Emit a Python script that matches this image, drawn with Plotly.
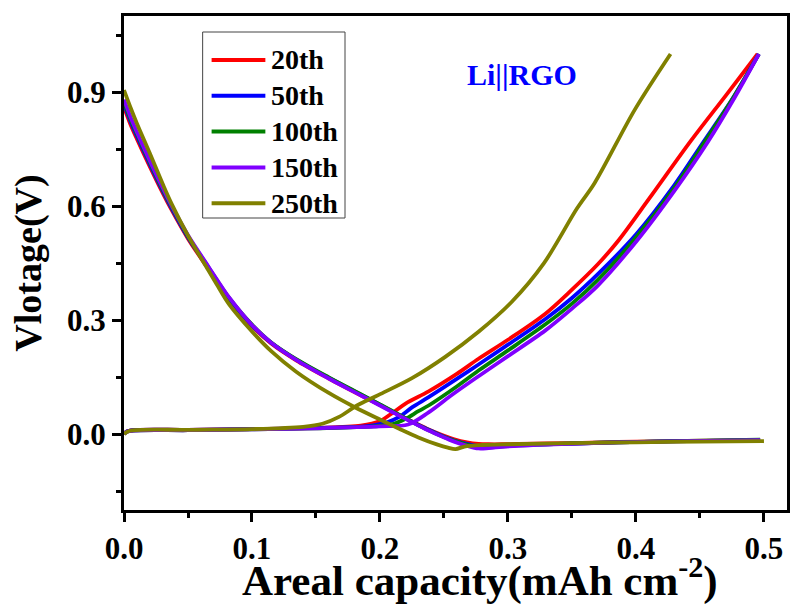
import plotly.graph_objects as go

# ---------------- data ----------------
series_names = ["20th", "50th", "100th", "150th", "250th"]
series_colors = ["#FF0000", "#0000FF", "#008000", "#8000FF", "#808000"]

# discharge branch (20th-150th share one capacity grid)
dis_x = [0, 0.005, 0.01, 0.02, 0.0306, 0.0373, 0.05, 0.0643, 0.0735, 0.082, 0.1,
         0.115, 0.1345, 0.16, 0.186, 0.2, 0.217, 0.228, 0.238, 0.248, 0.258, 0.268,
         0.277, 0.285, 0.295, 0.308, 0.33, 0.35, 0.386, 0.44, 0.497]
dis_20 = [0.86, 0.815, 0.777, 0.705, 0.632, 0.589, 0.514, 0.442, 0.396, 0.355, 0.284,
          0.238, 0.194, 0.146, 0.1, 0.076, 0.046, 0.028, 0.012, -0.002, -0.014, -0.022,
          -0.026, -0.027, -0.027, -0.026, -0.025, -0.024, -0.021, -0.018, -0.016]
dis_50 = [0.868, 0.823, 0.784, 0.711, 0.637, 0.593, 0.517, 0.445, 0.398, 0.357, 0.286,
          0.24, 0.196, 0.148, 0.102, 0.077, 0.046, 0.027, 0.011, -0.004, -0.017, -0.026,
          -0.032, -0.032, -0.031, -0.029, -0.027, -0.025, -0.022, -0.019, -0.016]
dis_100 = [0.874, 0.829, 0.79, 0.716, 0.641, 0.597, 0.52, 0.447, 0.4, 0.359, 0.288,
           0.241, 0.197, 0.149, 0.103, 0.078, 0.047, 0.027, 0.01, -0.005, -0.018, -0.028,
           -0.035, -0.035, -0.033, -0.03, -0.027, -0.025, -0.022, -0.018, -0.015]
dis_150 = [0.88, 0.835, 0.795, 0.72, 0.645, 0.6, 0.523, 0.449, 0.402, 0.36, 0.287,
           0.24, 0.195, 0.146, 0.1, 0.075, 0.045, 0.026, 0.009, -0.006, -0.02, -0.031,
           -0.038, -0.037, -0.034, -0.031, -0.028, -0.026, -0.022, -0.019, -0.016]
dis_250_x = [0, 0.005, 0.01, 0.02, 0.0306, 0.0373, 0.05, 0.0643, 0.0735, 0.082, 0.1,
             0.115, 0.1345, 0.16, 0.18, 0.2, 0.215, 0.23, 0.245, 0.253, 0.259, 0.266,
             0.28, 0.3, 0.35, 0.4, 0.45, 0.5]
dis_250 = [0.905, 0.86, 0.818, 0.74, 0.655, 0.605, 0.522, 0.44, 0.388, 0.342, 0.27,
           0.218, 0.164, 0.108, 0.071, 0.038, 0.014, -0.009, -0.028, -0.036, -0.04, -0.033,
           -0.029, -0.027, -0.024, -0.022, -0.02, -0.019]

# charge branch
chg_20_x = [0, 0.003, 0.05, 0.1, 0.15, 0.185, 0.2, 0.21, 0.22, 0.238, 0.26, 0.277,
            0.3, 0.329, 0.35, 0.37, 0.386, 0.41, 0.443, 0.47, 0.495]
chg_20 = [0, 0.008, 0.011, 0.013, 0.016, 0.022, 0.034, 0.056, 0.08, 0.112, 0.158, 0.198,
          0.248, 0.316, 0.38, 0.446, 0.508, 0.618, 0.772, 0.89, 1.0]
chg_50_x = [0, 0.003, 0.05, 0.1, 0.15, 0.19, 0.205, 0.215, 0.225, 0.238, 0.26, 0.277,
            0.3, 0.329, 0.35, 0.37, 0.4, 0.43, 0.452, 0.475, 0.496]
chg_50 = [0, 0.008, 0.011, 0.013, 0.016, 0.021, 0.03, 0.045, 0.07, 0.097, 0.145, 0.183,
          0.235, 0.302, 0.358, 0.42, 0.525, 0.655, 0.765, 0.88, 1.0]
chg_100_x = [0, 0.003, 0.05, 0.1, 0.15, 0.195, 0.21, 0.22, 0.23, 0.238, 0.26, 0.277,
             0.3, 0.329, 0.35, 0.37, 0.4, 0.43, 0.454, 0.476, 0.496]
chg_100 = [0, 0.007, 0.010, 0.012, 0.015, 0.02, 0.026, 0.04, 0.06, 0.075, 0.125, 0.167,
           0.22, 0.288, 0.343, 0.405, 0.517, 0.648, 0.77, 0.885, 1.0]
chg_150_x = [0, 0.003, 0.05, 0.1, 0.15, 0.2, 0.222, 0.238, 0.255, 0.277, 0.3, 0.329,
             0.35, 0.37, 0.401, 0.43, 0.456, 0.477, 0.496]
chg_150 = [0, 0.007, 0.010, 0.012, 0.015, 0.02, 0.025, 0.057, 0.1, 0.152, 0.205, 0.272,
           0.33, 0.39, 0.51, 0.64, 0.768, 0.885, 1.0]
chg_250_x = [0, 0.004, 0.05, 0.1, 0.14, 0.155, 0.168, 0.182, 0.199, 0.225, 0.251,
             0.277, 0.303, 0.328, 0.354, 0.3676, 0.399, 0.427]
chg_250 = [0, 0.008, 0.011, 0.013, 0.019, 0.027, 0.045, 0.075, 0.103, 0.147, 0.203,
           0.269, 0.348, 0.449, 0.594, 0.66, 0.853, 1.0]

discharge = [(dis_x, dis_20), (dis_x, dis_50), (dis_x, dis_100), (dis_x, dis_150),
             (dis_250_x, dis_250)]
charge = [(chg_20_x, chg_20), (chg_50_x, chg_50), (chg_100_x, chg_100),
          (chg_150_x, chg_150), (chg_250_x, chg_250)]

x_ticks = [0.0, 0.1, 0.2, 0.3, 0.4, 0.5]
y_ticks = [0.0, 0.3, 0.6, 0.9]

FONT = "Liberation Serif, Times New Roman, serif"

fig = go.Figure()
for name, color, (dx, dy), (cx, cy) in zip(series_names, series_colors, discharge, charge):
    xs = list(dx) + [None] + list(cx)
    ys = list(dy) + [None] + list(cy)
    fig.add_trace(go.Scatter(
        x=xs, y=ys, mode="lines", name=name, showlegend=False,
        line=dict(color=color, width=3.8, shape="spline", smoothing=0.9),
        connectgaps=False,
    ))

# ---- manual legend (line samples longer than plotly's default) ----
PL, PR, PT, PB = 124, 790, 16, 510
W, H = PR - PL, PB - PT


def px_x(p):
    return (p - PL) / W


def px_y(p):
    return (PB - p) / H


shapes = [dict(type="rect", xref="paper", yref="paper",
               x0=px_x(203), x1=px_x(346), y0=px_y(218), y1=px_y(32),
               line=dict(color="#444444", width=1), fillcolor="rgba(0,0,0,0)")]
annotations = []
for i, (name, color) in enumerate(zip(series_names, series_colors)):
    yc = 60 + i * 35.8
    shapes.append(dict(type="line", xref="paper", yref="paper",
                       x0=px_x(212), x1=px_x(266), y0=px_y(yc), y1=px_y(yc),
                       line=dict(color=color, width=4)))
    annotations.append(dict(xref="paper", yref="paper", x=px_x(270), y=px_y(yc),
                            xanchor="left", yanchor="middle", showarrow=False,
                            text=f"<b>{name}</b>",
                            font=dict(family=FONT, size=28, color="black")))

annotations.append(dict(xref="paper", yref="paper", x=px_x(524), y=px_y(75),
                        xanchor="center", yanchor="middle", showarrow=False,
                        text="<b>Li||RGO</b>",
                        font=dict(family=FONT, size=30, color="#0000FF")))

# x-axis title placed as in the reference (slightly right of plot centre)
annotations.append(dict(xref="paper", yref="paper", x=px_x(482), y=px_y(607),
                        xanchor="center", yanchor="bottom", showarrow=False,
                        text="<b>Areal capacity(mAh cm<sup>-2</sup>)</b>",
                        font=dict(family=FONT, size=43, color="black")))

axis_common = dict(
    showline=True, linecolor="black", linewidth=3, mirror=True,
    showgrid=False, zeroline=False,
    ticks="outside", ticklen=9, tickwidth=2.5, tickcolor="black",
    tickfont=dict(family=FONT, size=31, color="black"),
)

fig.update_layout(
    width=792, height=608,
    margin=dict(l=PL, r=792 - PR, t=PT, b=608 - PB),
    paper_bgcolor="white", plot_bgcolor="white",
    shapes=shapes, annotations=annotations,
    xaxis=dict(
        range=[0, 0.518], tickvals=x_ticks,
        ticktext=[f"<b>{v:.1f}</b>" for v in x_ticks],
        minor=dict(ticks="outside", ticklen=5, tickwidth=2.5, tickcolor="black",
                   dtick=0.05, tick0=0),
        **axis_common,
    ),
    yaxis=dict(
        range=[-0.2, 1.1], tickvals=y_ticks,
        ticktext=[f"<b>{v:.1f}</b>" for v in y_ticks],
        minor=dict(ticks="outside", ticklen=5, tickwidth=2.5, tickcolor="black",
                   dtick=0.15, tick0=0),
        title=dict(text="<b>Vlotage(V)</b>",
                   font=dict(family=FONT, size=38, color="black"), standoff=14),
        **axis_common,
    ),
)

fig.write_html("out.html")
